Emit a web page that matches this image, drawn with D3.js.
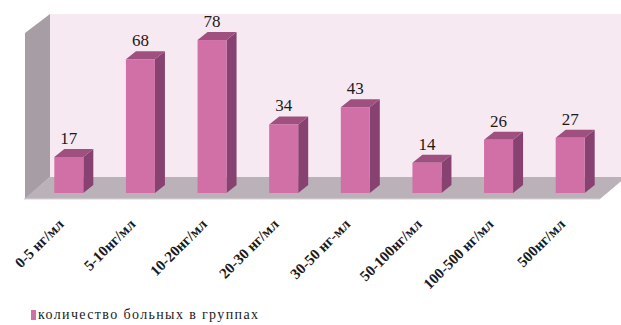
<!DOCTYPE html>
<html><head><meta charset="utf-8">
<script src="https://cdn.jsdelivr.net/npm/d3@7"></script>
<style>html,body{margin:0;padding:0;background:#fff;}svg{display:block;}</style>
</head><body>
<svg id="c" width="621" height="325"></svg>
<script>
const categories = ["0-5 нг/мл","5-10нг/мл","10-20нг/мл","20-30 нг/мл","30-50 нг-мл","50-100нг/мл","100-500 нг/мл","500нг/мл"];
const values = [17, 68, 78, 34, 43, 14, 26, 27];
const seriesName = "количество больных в группах";

const FONT = "'Liberation Serif', 'Times New Roman', serif";
const svg = d3.select("#c");
const floorFront = 193, floorBack = 177, wallTop = 14;
const dx = 10, dy = -8;

const x = d3.scaleBand().domain(categories).range([33, 606]).paddingInner(0.595).paddingOuter(0.2975);
const y = d3.scaleLinear().domain([0, 80]).range([189.6, 36.2]);

// back wall
svg.append("rect").attr("x", 50).attr("y", wallTop).attr("width", 571).attr("height", floorBack - wallTop).attr("fill", "#f7e9f2");
// left wall
svg.append("polygon").attr("points", [[50,wallTop],[25,33],[25,199],[50,floorBack]].map(p=>p.join(",")).join(" ")).attr("fill", "#a69ea4");
// floor
svg.append("polygon").attr("points", [[50,floorBack],[626,floorBack],[600,199],[24,199]].map(p=>p.join(",")).join(" ")).attr("fill", "#bab2b8");
svg.append("line").attr("x1",24).attr("x2",600).attr("y1",199).attr("y2",199).attr("stroke","#d8d2d6").attr("stroke-width",1);

const bw = x.bandwidth();
const g = svg.append("g");
categories.forEach((c, i) => {
  const x0 = x(c), yt = y(values[i]);
  g.append("polygon").attr("points", [[x0+bw,yt],[x0+bw+dx,yt+dy],[x0+bw+dx,floorFront+dy],[x0+bw,floorFront]].map(p=>p.join(",")).join(" ")).attr("fill", "#874271");
  g.append("polygon").attr("points", [[x0,yt],[x0+dx,yt+dy],[x0+bw+dx,yt+dy],[x0+bw,yt]].map(p=>p.join(",")).join(" ")).attr("fill", "#a0507f");
  g.append("rect").attr("x", x0).attr("y", yt).attr("width", bw).attr("height", floorFront - yt).attr("fill", "#d170a6");
  g.append("text").attr("x", x0 + bw/2).attr("y", yt + dy - 5).attr("text-anchor", "middle")
    .attr("font-family", FONT).attr("font-size", 17).attr("fill", "#1a1a1a").text(values[i]);
  g.append("text").attr("transform", `translate(${x0 + bw/2 - 4},225) rotate(-45)`).attr("text-anchor", "end")
    .attr("font-family", FONT).attr("font-weight", "bold").attr("font-size", 15).attr("fill", "#1a1a1a").text(c);
});

// legend
svg.append("rect").attr("x", 31).attr("y", 310).attr("width", 5).attr("height", 10).attr("fill", "#d170a6");
svg.append("text").attr("x", 38).attr("y", 319).attr("font-family", FONT).attr("font-size", 14)
  .attr("fill", "#222").attr("textLength", 220).attr("lengthAdjust", "spacing").text(seriesName);
</script>
</body></html>
